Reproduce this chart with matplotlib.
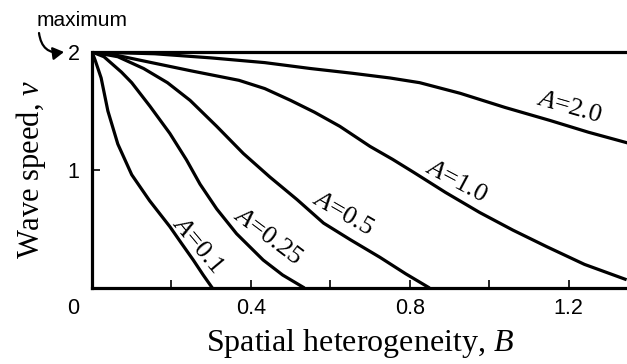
import matplotlib
matplotlib.use("Agg")
import matplotlib.pyplot as plt

plt.rcParams["mathtext.fontset"] = "custom"
plt.rcParams["mathtext.it"] = "Liberation Serif:italic"
plt.rcParams["mathtext.rm"] = "Liberation Serif"

# Data (B, v)
B_01 = [0.0, 0.008, 0.023, 0.040, 0.065, 0.10, 0.145, 0.196, 0.225, 0.255, 0.28, 0.303]
v_01 = [2.0, 1.93, 1.78, 1.50, 1.22, 0.96, 0.74, 0.52, 0.38, 0.237, 0.11, 0.0]

B_025 = [0.0, 0.03, 0.074, 0.10, 0.146, 0.196, 0.238, 0.272, 0.314, 0.364, 0.431, 0.48, 0.535]
v_025 = [2.0, 1.96, 1.83, 1.74, 1.54, 1.31, 1.085, 0.88, 0.67, 0.46, 0.237, 0.11, 0.0]

B_05 = [0.0, 0.065, 0.13, 0.19, 0.247, 0.314, 0.381, 0.448, 0.516, 0.583, 0.65, 0.725, 0.79, 0.85]
v_05 = [2.0, 1.96, 1.86, 1.74, 1.59, 1.37, 1.14, 0.94, 0.75, 0.55, 0.41, 0.26, 0.12, 0.0]

B_10 = [0.0, 0.065, 0.15, 0.25, 0.37, 0.435, 0.50, 0.56, 0.624, 0.70, 0.757, 0.81,
        0.89, 0.976, 1.06, 1.145, 1.24, 1.346]
v_10 = [2.0, 1.97, 1.91, 1.84, 1.76, 1.69, 1.59, 1.49, 1.37, 1.20, 1.09, 0.98,
        0.81, 0.64, 0.49, 0.35, 0.20, 0.07]

B_20 = [0.0, 0.158, 0.30, 0.435, 0.55, 0.655, 0.75, 0.825, 0.927, 1.04, 1.153, 1.25, 1.348]
v_20 = [2.0, 1.985, 1.95, 1.91, 1.86, 1.82, 1.78, 1.74, 1.65, 1.53, 1.42, 1.32, 1.23]

v_max = 2.0
x_ticks = [0.2, 0.4, 0.6, 0.8, 1.0, 1.2]
x_ticklabels = ["", "0.4", "", "0.8", "", "1.2"]
y_ticks = [1, 2]
y_ticklabels = ["1", "2"]
curve_labels = ["$A$=0.1", "$A$=0.25", "$A$=0.5", "$A$=1.0", "$A$=2.0"]

fig = plt.figure(figsize=(6.27, 3.64), dpi=100)
ax = fig.add_axes([92/627, 1-288/364, 1-92/627, (288-52)/364])

lw = 2.3
ax.plot([0, 1.4], [v_max, v_max], color="black", lw=lw, solid_capstyle="butt", clip_on=False)
for Bs, vs in [(B_01, v_01), (B_025, v_025), (B_05, v_05), (B_10, v_10), (B_20, v_20)]:
    ax.plot(Bs, vs, color="black", lw=lw, solid_joinstyle="round", solid_capstyle="butt")

ax.set_xlim(0, 1.347)
ax.set_ylim(0, 2)

for s in ["top", "right"]:
    ax.spines[s].set_visible(False)
for s in ["left", "bottom"]:
    ax.spines[s].set_linewidth(2.3)

sans = "Liberation Sans"
serif = "Liberation Serif"

ax.set_xticks(x_ticks)
ax.set_xticklabels(x_ticklabels, fontsize=15.5, family=sans)
ax.set_yticks(y_ticks)
ax.set_yticklabels(y_ticklabels, fontsize=15.5, family=sans)
ax.tick_params(axis="x", direction="in", length=6, width=1.2, pad=7)
ax.tick_params(axis="y", direction="in", length=6, width=1.2, pad=9)

ax.text(-0.035, -0.085, "0", transform=ax.transAxes, fontsize=15.5, family=sans,
        ha="center", va="center")

ax.set_xlabel("Spatial heterogeneity, $B$", fontsize=23, family=serif, labelpad=6)
ax.set_ylabel("Wave speed, $v$", fontsize=22, family=serif, labelpad=14)

fig.text(82/627, 1-21/364, "maximum", fontsize=15, family=sans, ha="center", va="center")
ax.annotate("", xy=(64/627, 1-52/364), xycoords="figure fraction",
            xytext=(39/627, 1-33/364), textcoords="figure fraction",
            arrowprops=dict(arrowstyle="-|>,head_length=0.65,head_width=0.38", color="black",
                            lw=1.6, mutation_scale=10, shrinkA=0, shrinkB=0,
                            connectionstyle="arc3,rad=0.5"))

label_pos = [(0.265, 0.364, -50), (0.441, 0.435, -37), (0.63, 0.627, -30),
             (0.917, 0.90, -28), (1.20, 1.53, -16)]
for txt, (bx, vy, rot) in zip(curve_labels, label_pos):
    ax.text(bx, vy, txt, fontsize=19, family=serif, rotation=rot,
            ha="center", va="center", rotation_mode="anchor")

fig.savefig("out.png", dpi=100)
